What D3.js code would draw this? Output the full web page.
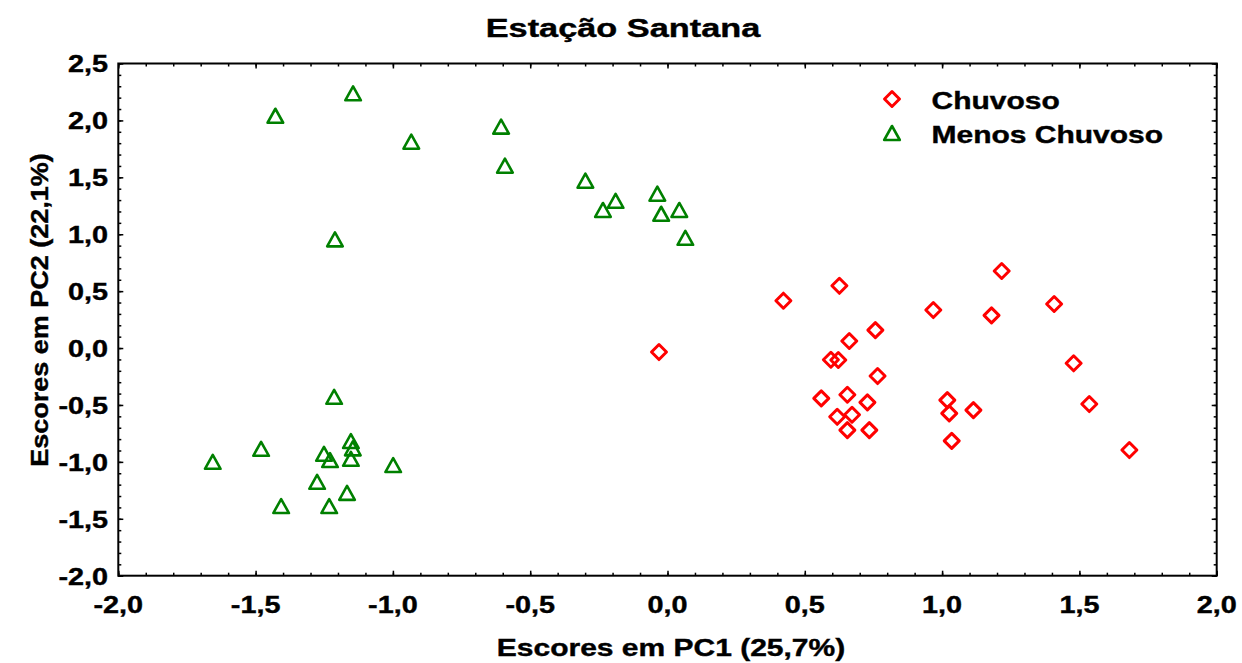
<!DOCTYPE html>
<html>
<head>
<meta charset="utf-8">
<script src="https://cdn.jsdelivr.net/npm/d3@7"></script>
<style>
  body { margin: 0; background: #fff; }
  text { font-family: "Liberation Sans", Arial, sans-serif; font-weight: bold; fill: #000;
         stroke: #000; stroke-width: 0.4px; }
</style>
</head>
<body>
<svg id="chart" width="1242" height="663"></svg>
<script>
// PCA scores, Estação Santana
const chartTitle = "Estação Santana";
const xLabel = "Escores em PC1 (25,7%)";
const yLabel = "Escores em PC2 (22,1%)";
const seriesNames = ["Chuvoso", "Menos Chuvoso"];

const xTicks = [-2.0, -1.5, -1.0, -0.5, 0.0, 0.5, 1.0, 1.5, 2.0];
const yTicks = [-2.0, -1.5, -1.0, -0.5, 0.0, 0.5, 1.0, 1.5, 2.0, 2.5];

// Chuvoso (rainy season)
const chuvosoPC1 = [0.422, 0.626, 0.968, 1.180, 1.217, 1.408, 0.757, 0.662, 0.595, 0.622,
                    0.765, 0.560, 0.655, 0.728, 0.618, 0.672, 0.655, 0.735, 1.019, 1.026,
                    1.114, 1.035, 1.479, 1.536, 1.682, -0.031];
const chuvosoPC2 = [0.416, 0.547, 0.334, 0.287, 0.677, 0.387, 0.158, 0.062, -0.103, -0.105,
                    -0.246, -0.442, -0.410, -0.477, -0.604, -0.586, -0.721, -0.721, -0.457, -0.574,
                    -0.545, -0.815, -0.134, -0.492, -0.896, -0.035];

// Menos Chuvoso (less rainy season)
const menosPC1 = [-1.428, -1.145, -0.933, -0.606, -0.592, -1.211, -0.299, -0.189, -0.235, -0.037,
                  -0.023, 0.043, 0.065,
                  -1.214, -1.480, -1.656, -1.251, -1.229, -1.153, -1.146, -1.153, -0.999, -1.276,
                  -1.167, -1.407, -1.232];
const menosPC2 = [2.041, 2.238, 1.813, 1.945, 1.602, 0.955, 1.470, 1.294, 1.213, 1.356,
                  1.180, 1.213, 0.969,
                  -0.428, -0.885, -0.999, -0.929, -0.984, -0.817, -0.881, -0.973, -1.028, -1.175,
                  -1.272, -1.388, -1.388];

const colors = ["#ff0000", "#008000"];

const svg = d3.select("#chart");
const plot = { left: 118.3, right: 1216.7, top: 63.5, bottom: 575.7 };

const x = d3.scaleLinear().domain([-2, 2]).range([plot.left, plot.right]);
const y = d3.scaleLinear().domain([-2, 2.5]).range([plot.bottom, plot.top]);

const fmt = d3.formatLocale({ decimal: ",", thousands: ".", grouping: [3], currency: ["", ""] }).format(".1f");
const fmtTick = v => fmt(v).replace("−", "-");

// text is drawn horizontally widened, like the rest of the figure's lettering
function wideText(parent, px, py, str, size, sx, anchor, rot) {
  return parent.append("text")
    .attr("transform", `translate(${px},${py})` + (rot ? ` rotate(${rot})` : "") + ` scale(${sx},1)`)
    .attr("text-anchor", anchor)
    .style("font-size", size + "px")
    .text(str);
}

// ticks (inward on all four sides)
const minorX = d3.range(-20, 21).map(d => d / 10);
const minorY = d3.range(-20, 26).map(d => d / 10);

function tickAxis(axis, minorVals, majorVals, transform) {
  const gm = svg.append("g").attr("transform", transform)
    .call(axis.tickValues(minorVals).tickSize(-3).tickSizeOuter(0).tickFormat(""));
  gm.select(".domain").remove();
  const gM = svg.append("g").attr("transform", transform)
    .call(axis.tickValues(majorVals).tickSize(-5).tickSizeOuter(0).tickFormat(""));
  gM.select(".domain").remove();
  [gm, gM].forEach(g => g.selectAll("line").attr("stroke", "#000").attr("stroke-width", 1.5));
}
tickAxis(d3.axisBottom(x), minorX, xTicks, `translate(0,${plot.bottom})`);
tickAxis(d3.axisTop(x), minorX, xTicks, `translate(0,${plot.top})`);
tickAxis(d3.axisLeft(y), minorY, yTicks, `translate(${plot.left},0)`);
tickAxis(d3.axisRight(y), minorY, yTicks, `translate(${plot.right},0)`);

// frame
svg.append("rect")
  .attr("x", plot.left).attr("y", plot.top)
  .attr("width", plot.right - plot.left).attr("height", plot.bottom - plot.top)
  .attr("fill", "none").attr("stroke", "#000").attr("stroke-width", 2);

// tick labels
const labels = svg.append("g");
xTicks.forEach(v => wideText(labels, x(v), 612.5, fmtTick(v), 24, 1.2, "middle"));
yTicks.forEach(v => wideText(labels, 108, y(v) + 8.8, fmtTick(v), 24, 1.2, "end"));

// titles
wideText(svg, 623, 36.5, chartTitle, 26, 1.32, "middle");
wideText(svg, 671, 655.5, xLabel, 24, 1.25, "middle");
wideText(svg, 48, 310, yLabel, 24, 1.125, "middle", -90);

// marker shapes
const diamondPath = "M0,-7.5 L7.5,0 L0,7.5 L-7.5,0 Z";
const trianglePath = "M0,-7 L7.8,7 L-7.8,7 Z";

const chuvoso = chuvosoPC1.map((v, i) => ({ pc1: v, pc2: chuvosoPC2[i] }));
const menos = menosPC1.map((v, i) => ({ pc1: v, pc2: menosPC2[i] }));

svg.append("g").selectAll("path").data(chuvoso).join("path")
  .attr("d", diamondPath)
  .attr("transform", d => `translate(${x(d.pc1)},${y(d.pc2)})`)
  .attr("fill", "none").attr("stroke", colors[0]).attr("stroke-width", 3)
  .attr("stroke-linejoin", "round");

svg.append("g").selectAll("path").data(menos).join("path")
  .attr("d", trianglePath)
  .attr("transform", d => `translate(${x(d.pc1)},${y(d.pc2)})`)
  .attr("fill", "none").attr("stroke", colors[1]).attr("stroke-width", 2.6)
  .attr("stroke-linejoin", "round");

// legend
const legend = svg.append("g");
const legendRows = [
  { name: seriesNames[0], path: diamondPath, color: colors[0], y: 99, sw: 3 },
  { name: seriesNames[1], path: trianglePath, color: colors[1], y: 133, sw: 2.6 }
];
legendRows.forEach(r => {
  legend.append("path").attr("d", r.path)
    .attr("transform", `translate(892,${r.y})`)
    .attr("fill", "none").attr("stroke", r.color).attr("stroke-width", r.sw)
    .attr("stroke-linejoin", "round");
  wideText(legend, 931.5, r.y + 9.5, r.name, 24, 1.25, "start");
});
</script>
</body>
</html>
